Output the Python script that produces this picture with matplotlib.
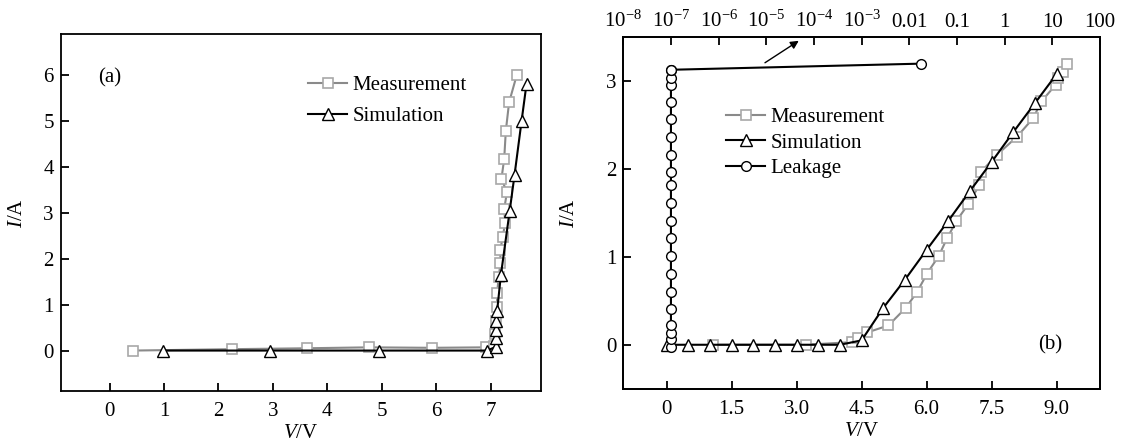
import matplotlib
matplotlib.use("Agg")
import matplotlib.pyplot as plt
import numpy as np

plt.rcParams['font.family'] = ['Liberation Serif', 'DejaVu Serif']
plt.rcParams['mathtext.fontset'] = 'custom'
plt.rcParams['mathtext.rm'] = 'Liberation Serif'
plt.rcParams['mathtext.it'] = 'Liberation Serif:italic'
plt.rcParams['font.size'] = 15

# ---------------- Panel (a) data ----------------
a_meas_V = [0.43, 2.24, 3.62, 4.76, 5.92, 6.92, 7.06, 7.08, 7.10, 7.12, 7.12, 7.15, 7.18,
            7.18, 7.22, 7.27, 7.25, 7.30, 7.20, 7.25, 7.28, 7.34, 7.48]
a_meas_I = [0.0, 0.03, 0.05, 0.07, 0.06, 0.07, 0.10, 0.35, 0.65, 0.95, 1.26, 1.60, 1.90,
            2.18, 2.47, 2.77, 3.08, 3.44, 3.74, 4.17, 4.78, 5.40, 5.99]
a_sim_V = [0.98, 2.95, 4.95, 6.93, 7.10, 7.10, 7.10, 7.10, 7.12, 7.19, 7.35, 7.44, 7.57, 7.66]
a_sim_I = [0.0, 0.0, 0.0, 0.0, 0.08, 0.27, 0.45, 0.65, 0.86, 1.65, 3.03, 3.82, 5.00, 5.80]
a_xticks = [0, 1, 2, 3, 4, 5, 6, 7]
a_yticks = [0, 1, 2, 3, 4, 5, 6]

# ---------------- Panel (b) data ----------------
b_meas_V = [1.07, 3.21, 4.28, 4.42, 4.63, 5.12, 5.52, 5.78, 6.01, 6.28, 6.47, 6.69, 6.96,
            7.22, 7.26, 7.62, 8.09, 8.46, 8.65, 8.98, 9.04, 9.14, 9.23]
b_meas_I = [0.0, 0.0, 0.03, 0.08, 0.14, 0.22, 0.42, 0.60, 0.81, 1.01, 1.21, 1.41, 1.60,
            1.82, 1.97, 2.16, 2.37, 2.58, 2.77, 2.96, 3.04, 3.11, 3.20]
b_sim_V = [0.0, 0.5, 1.0, 1.5, 2.0, 2.5, 3.0, 3.5, 4.0, 4.5, 5.0, 5.5, 6.0, 6.5, 7.0,
           7.5, 8.0, 8.5, 9.0]
b_sim_I = [0.0, 0.0, 0.0, 0.0, 0.0, 0.0, 0.0, 0.0, 0.0, 0.05, 0.42, 0.74, 1.08, 1.41,
           1.75, 2.08, 2.42, 2.75, 3.08]
b_leak_X = [1e-7] * 21 + [0.018]
b_leak_I = [-0.02, 0.06, 0.13, 0.23, 0.41, 0.60, 0.81, 1.01, 1.21, 1.41, 1.61, 1.82,
            1.97, 2.16, 2.37, 2.57, 2.76, 2.96, 3.04, 3.13, 3.13, 3.20]
b_xticks = [0, 1.5, 3.0, 4.5, 6.0, 7.5, 9.0]
b_xticklabels = ['0', '1.5', '3.0', '4.5', '6.0', '7.5', '9.0']
b_yticks = [0, 1, 2, 3]
b_top_ticks = [1e-8, 1e-7, 1e-6, 1e-5, 1e-4, 1e-3, 1e-2, 1e-1, 1, 10, 100]
b_top_labels = [r'$\mathregular{10^{-8}}$', r'$\mathregular{10^{-7}}$', r'$\mathregular{10^{-6}}$',
                r'$\mathregular{10^{-5}}$', r'$\mathregular{10^{-4}}$', r'$\mathregular{10^{-3}}$',
                '0.01', '0.1', '1', '10', '100']

GRAY_LINE = '#8a8a8a'
GRAY_MK = '#a8a8a8'

fig = plt.figure(figsize=(11.21, 4.48), dpi=100)
axA = fig.add_axes([0.0541, 0.1272, 0.4282, 0.7962])
axB = fig.add_axes([0.5560, 0.1324, 0.4252, 0.7844])

def style(ax):
    for s in ax.spines.values():
        s.set_linewidth(1.3)
    ax.tick_params(direction='in', length=6, width=1.3, top=False, right=False)
    ax.tick_params(axis='x', pad=8)
    ax.tick_params(axis='y', pad=5)

# ---- Panel (a) ----
axA.plot(a_meas_V, a_meas_I, '-', color=GRAY_LINE, lw=1.5, marker='s', ms=6.5,
         mfc='white', mec=GRAY_MK, mew=1.2, label='Measurement', zorder=2)
axA.plot(a_sim_V, a_sim_I, '-', color='black', lw=1.5, marker='^', ms=8.5,
         mfc='white', mec='black', mew=1.0, label='Simulation', zorder=3)
axA.set_xlim(-0.9, 7.92)
axA.set_ylim(-0.88, 6.88)
axA.set_xticks(a_xticks)
axA.set_yticks(a_yticks)
style(axA)
axA.set_xlabel('$V$/V', labelpad=2)
axA.set_ylabel('$I$/A', labelpad=12)
axA.text(0.0, 5.93, '(a)', ha='center', va='center')
axA.legend(loc='upper left', bbox_to_anchor=(0.515, 0.885), frameon=False, numpoints=1,
           handlelength=1.9, handletextpad=0.25, borderpad=0, borderaxespad=0,
           labelspacing=0.55)

# ---- Panel (b) ----
axB.plot(b_meas_V, b_meas_I, '-', color=GRAY_LINE, lw=1.5, marker='s', ms=6.5,
         mfc='white', mec=GRAY_MK, mew=1.2, label='Measurement', zorder=2)
axB.plot(b_sim_V, b_sim_I, '-', color='black', lw=1.5, marker='^', ms=8.5,
         mfc='white', mec='black', mew=1.0, label='Simulation', zorder=3)
axB.set_xlim(-1.0, 10.0)
axB.set_ylim(-0.5, 3.5)
axB.set_xticks(b_xticks)
axB.set_xticklabels(b_xticklabels)
axB.set_yticks(b_yticks)
style(axB)
axB.set_xlabel('$V$/V', labelpad=2)
axB.set_ylabel('$I$/A', labelpad=19)
axB.text(8.86, 0.0, '(b)', ha='center', va='center')

axT = axB.twiny()
axT.set_xscale('log')
axT.set_xlim(1e-8, 1e2)
axT.plot(b_leak_X, b_leak_I, '-', color='black', lw=1.5, marker='o', ms=7,
         mfc='white', mec='black', mew=1.0, label='Leakage', zorder=3)
axT.set_xticks(b_top_ticks)
axT.set_xticklabels(b_top_labels)
axT.xaxis.set_minor_locator(matplotlib.ticker.NullLocator())
axT.tick_params(axis='x', direction='in', length=6, width=1.3, pad=4)
for s in axT.spines.values():
    s.set_linewidth(1.3)
axT.set_ylim(-0.5, 3.5)

axB.annotate('', xy=(3.05, 3.46), xytext=(2.27, 3.21),
             arrowprops=dict(arrowstyle='-|>', color='black', lw=1.0,
                             mutation_scale=12, shrinkA=0, shrinkB=0))

h1, l1 = axB.get_legend_handles_labels()
h2, l2 = axT.get_legend_handles_labels()
axB.legend(h1 + h2, l1 + l2, loc='upper left', bbox_to_anchor=(0.215, 0.80),
           frameon=False, numpoints=1, handlelength=1.9, handletextpad=0.25,
           borderpad=0, borderaxespad=0, labelspacing=0.28)

fig.savefig('out.png', dpi=100)
